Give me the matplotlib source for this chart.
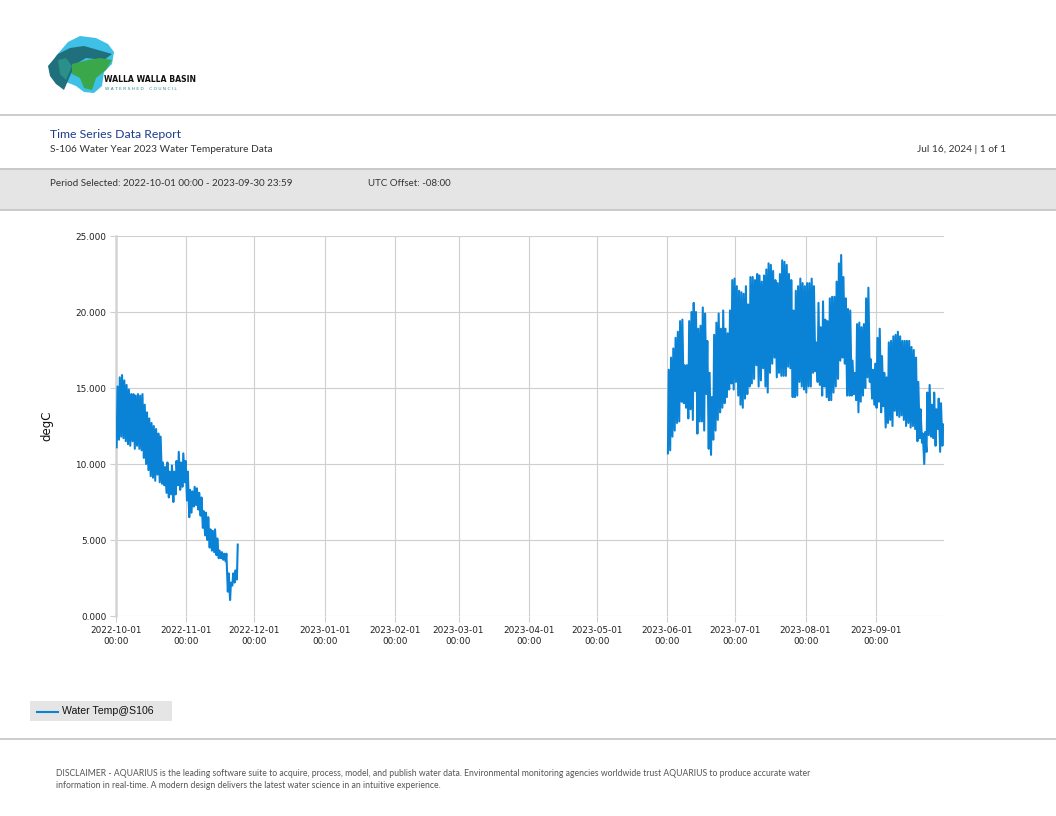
import matplotlib
matplotlib.use("Agg")
import matplotlib.pyplot as plt
from matplotlib.patches import Rectangle, Polygon
from matplotlib.lines import Line2D
import numpy as np
import pandas as pd

# ---------------- data (daily max / min) ----------------
fall_start = "2022-10-01"
fall_max = [15.1, 15.7, 15.85, 15.5, 15.2, 14.9, 14.6, 14.6, 14.5, 14.6,
            14.5, 14.6, 13.9, 13.4, 13.0, 12.7, 12.5, 12.3, 12.0, 11.8,
            10.1, 9.8, 10.1, 9.5, 9.9, 9.5, 10.2, 10.8, 10.1, 10.7,
            10.2, 9.5, 8.3, 8.2, 8.5, 8.4, 8.1, 7.8, 6.9, 6.8,
            6.5, 5.7, 5.6, 5.7, 5.1, 4.3, 4.2, 4.1, 4.1, 2.8,
            2.2, 2.8, 3.0, 4.7]
fall_min = [11.1, 11.6, 11.8, 11.7, 11.5, 11.3, 11.2, 11.5, 11.0, 11.2,
            11.0, 10.9, 10.4, 10.0, 9.6, 9.2, 9.1, 8.9, 9.3, 8.8,
            8.7, 8.6, 8.1, 7.8, 8.0, 7.5, 8.0, 8.6, 8.3, 8.5,
            8.8, 7.6, 6.5, 6.8, 7.2, 7.3, 7.0, 6.6, 5.8, 5.3,
            5.0, 4.5, 4.3, 4.2, 4.0, 3.8, 3.8, 3.7, 3.6, 1.6,
            1.05, 2.0, 2.2, 2.4]

summer_start = "2023-06-01"
summer_max = [16.2, 17.0, 17.6, 18.3, 18.7, 19.4, 19.5, 16.5, 16.5, 19.4,
              20.0, 20.6, 20.0, 18.9, 19.1, 20.3, 19.9, 18.1, 16.0, 14.4,
              18.5, 19.3, 19.9, 18.9, 20.1, 18.9, 18.6, 20.1, 22.1, 22.2,
              21.7, 21.4, 21.3, 21.2, 21.7, 20.5, 22.3, 22.3, 22.1, 22.5,
              22.4, 22.0, 22.4, 22.8, 23.2, 23.1, 22.7, 22.1, 21.9, 22.5,
              23.4, 23.3, 23.1, 22.5, 22.1, 20.1, 21.4, 21.7, 22.2, 21.9,
              21.7, 21.9, 21.9, 22.2, 21.7, 18.0, 20.6, 19.0, 20.7, 19.5,
              19.4, 20.9, 21.0, 21.0, 22.0, 23.2, 23.75, 22.3, 20.9, 20.2,
              20.1, 16.8, 16.0, 19.2, 19.3, 19.0, 19.2, 20.9, 21.6, 16.9,
              16.2, 16.6, 18.3, 18.9, 17.1, 16.0, 15.7, 18.0, 18.1, 18.4,
              18.5, 18.7, 18.4, 18.1, 18.1, 18.1, 18.1, 17.7, 17.5, 17.0,
              15.4, 13.6, 12.0, 12.1, 14.7, 15.2, 13.9, 14.7, 13.6, 14.3,
              14.0, 12.6]
summer_min = [10.7, 10.9, 11.8, 12.2, 12.7, 12.8, 14.1, 14.0, 13.7, 13.0,
              13.6, 12.9, 14.8, 12.0, 12.8, 12.8, 12.2, 14.6, 11.0, 10.6,
              11.6, 12.2, 12.9, 13.4, 13.7, 14.0, 14.4, 14.9, 15.3, 14.9,
              15.4, 14.5, 13.9, 13.7, 14.3, 14.6, 15.1, 15.3, 15.6, 16.5,
              15.1, 15.5, 16.3, 15.1, 14.7, 16.0, 16.6, 17.0, 15.7, 16.0,
              15.8, 15.8, 15.8, 16.4, 16.3, 14.4, 14.4, 14.5, 15.4, 15.1,
              14.9, 14.7, 15.1, 15.1, 16.0, 16.1, 15.4, 15.2, 14.5, 15.1,
              14.4, 14.2, 14.2, 14.7, 15.1, 15.6, 16.8, 17.0, 16.6, 14.5,
              14.5, 14.5, 14.6, 14.2, 13.4, 14.1, 14.5, 15.0, 15.7, 15.4,
              14.3, 13.9, 13.7, 14.1, 13.4, 13.8, 12.4, 12.7, 12.9, 12.5,
              13.5, 13.2, 13.1, 13.2, 12.9, 12.5, 12.7, 12.4, 12.5, 12.3,
              11.5, 11.7, 11.4, 10.0, 10.8, 11.9, 11.8, 11.7, 11.2, 12.3,
              10.8, 11.2]

y_ticks = [0, 5, 10, 15, 20, 25]
x_ticks = ["2022-10-01", "2022-11-01", "2022-12-01", "2023-01-01", "2023-02-01",
           "2023-03-01", "2023-04-01", "2023-05-01", "2023-06-01", "2023-07-01",
           "2023-08-01", "2023-09-01"]
series_name = "Water Temp@S106"


def build(start, mx, mn):
    t, v = [], []
    d0 = pd.Timestamp(start)
    for i, (a, b) in enumerate(zip(mx, mn)):
        day = d0 + pd.Timedelta(days=i)
        t.append(day + pd.Timedelta(hours=7)); v.append(b)
        t.append(day + pd.Timedelta(hours=16)); v.append(a)
    return t, v


ft, fv = build(fall_start, fall_max, fall_min)
st, sv = build(summer_start, summer_max, summer_min)
times = ft + [ft[-1] + pd.Timedelta(hours=1)] + st
vals = fv + [np.nan] + sv

# ---------------- figure ----------------
W, H = 1056, 816
fig = plt.figure(figsize=(W / 100, H / 100), dpi=100)
fig.patch.set_facecolor("white")


def fx(x):
    return x / W


def fy(y):
    return 1 - y / H


HF = ["Lato", "DejaVu Sans"]

# logo (approximation)
logo_shapes = [
    ("#3fc0e6", [(68, 42), (80, 36), (96, 38), (108, 44), (114, 52), (112, 64), (104, 72),
                 (102, 86), (94, 93), (84, 92), (76, 86), (66, 82), (56, 80), (50, 70), (56, 56)]),
    ("#1f6f7c", [(48, 66), (58, 54), (70, 48), (84, 46), (98, 50), (112, 54), (104, 60),
                 (86, 58), (76, 64), (70, 76), (64, 90), (56, 84), (50, 76)]),
    ("#3aa84a", [(72, 64), (88, 60), (100, 58), (112, 60), (106, 70), (96, 78), (92, 90),
                 (84, 88), (80, 78), (72, 74)]),
    ("#2b8f8a", [(58, 60), (66, 58), (72, 66), (66, 80), (60, 74)]),
]
for col, pts in logo_shapes:
    fig.patches.append(Polygon([(fx(x), fy(y)) for x, y in pts], closed=True,
                               transform=fig.transFigure, facecolor=col,
                               edgecolor="none", zorder=1))
fig.text(fx(104), fy(80), "WALLA WALLA BASIN", fontsize=5.6, family="DejaVu Sans",
         color="#111111", va="center", ha="left", fontweight="bold")
fig.text(fx(105), fy(89), "W A T E R S H E D    C O U N C I L", fontsize=3.2,
         family="DejaVu Sans", color="#2a8a8a", va="center", ha="left")

# header lines / band
fig.add_artist(Line2D([0, 1], [fy(114.5), fy(114.5)], color="#c4c4c4", lw=1.2))
fig.patches.append(Rectangle((0, fy(210)), 1, fy(168) - fy(210), transform=fig.transFigure,
                             facecolor="#e5e5e5", edgecolor="none", zorder=0))
fig.add_artist(Line2D([0, 1], [fy(168.5), fy(168.5)], color="#c4c4c4", lw=1.2))
fig.add_artist(Line2D([0, 1], [fy(210), fy(210)], color="#c4c4c4", lw=1.2))
fig.add_artist(Line2D([0, 1], [fy(738.5), fy(738.5)], color="#c4c4c4", lw=1.2))

fig.text(fx(50), fy(135), "Time Series Data Report", fontsize=8.8, family=HF,
         color="#1f3b8c", va="center", ha="left")
fig.text(fx(50), fy(149.5), "S-106 Water Year 2023 Water Temperature Data", fontsize=7.3,
         family=HF, color="#333333", va="center", ha="left")
fig.text(fx(1006), fy(149.5), "Jul 16, 2024 | 1 of 1", fontsize=7.3, family=HF,
         color="#333333", va="center", ha="right")
fig.text(fx(50), fy(183), "Period Selected: 2022-10-01 00:00 - 2023-09-30 23:59",
         fontsize=7.15, family=HF, color="#333333", va="center", ha="left")
fig.text(fx(368), fy(183), "UTC Offset: -08:00", fontsize=7.0, family=HF,
         color="#333333", va="center", ha="left")

# ---------------- axes ----------------
ax = fig.add_axes([fx(116), fy(616), fx(944) - fx(116), fy(236) - fy(616)])
ax.plot(times, vals, color="#0a83d6", lw=1.5, solid_joinstyle="round", zorder=3)
ax.set_xlim(pd.Timestamp("2022-10-01"), pd.Timestamp("2023-09-30 23:59"))
ax.set_ylim(0, 25)
ax.set_yticks(y_ticks)
ax.set_yticklabels([f"{v:.3f}" for v in y_ticks])
xt = [pd.Timestamp(s) for s in x_ticks]
ax.set_xticks(xt)
ax.set_xticklabels([f"{s}\n00:00" for s in x_ticks], linespacing=1.35)
ax.grid(True, color="#cfcfcf", lw=0.8)
ax.set_axisbelow(True)
for s in ["top", "right", "bottom"]:
    ax.spines[s].set_visible(False)
ax.spines["left"].set_color("#d4d4d4")
ax.spines["left"].set_linewidth(1.8)
ax.tick_params(axis="both", colors="#cfcfcf", length=4, width=0.8, labelcolor="#222222",
               labelsize=6.4, pad=3)
for lab in ax.get_xticklabels() + ax.get_yticklabels():
    lab.set_family("DejaVu Sans")
ax.set_ylabel("degC", fontsize=8.5, family="DejaVu Sans", color="#111111", labelpad=16)
ax.set_facecolor("white")

# legend box
fig.patches.append(Rectangle((fx(30), fy(721)), fx(172) - fx(30), fy(701) - fy(721),
                             transform=fig.transFigure, facecolor="#e5e5e5",
                             edgecolor="none", zorder=0))
fig.add_artist(Line2D([fx(37), fx(58)], [fy(711.5), fy(711.5)], color="#0a83d6", lw=1.5))
fig.text(fx(62), fy(711.5), series_name, fontsize=7.6, family="Liberation Sans",
         color="#111111", va="center", ha="left")

# disclaimer
fig.text(fx(56), fy(774), "DISCLAIMER - AQUARIUS is the leading software suite to acquire, process, "
         "model, and publish water data. Environmental monitoring agencies worldwide trust "
         "AQUARIUS to produce accurate water", fontsize=6.25, family=HF, color="#555555",
         va="center", ha="left")
fig.text(fx(56), fy(785), "information in real-time. A modern design delivers the latest water "
         "science in an intuitive experience.", fontsize=6.25, family=HF, color="#555555",
         va="center", ha="left")

fig.savefig("out.png", dpi=100, facecolor="white")
